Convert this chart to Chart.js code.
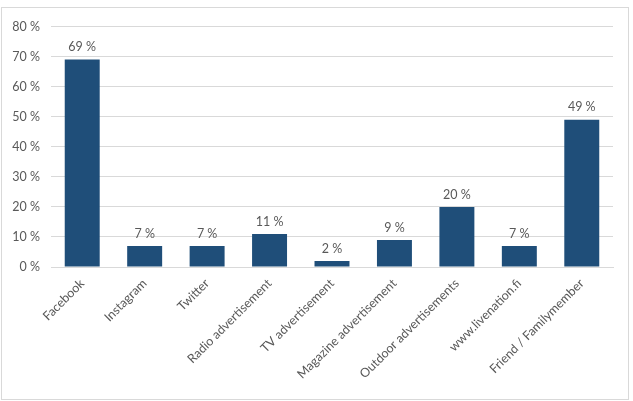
<!DOCTYPE html>
<html>
<head>
<meta charset="utf-8">
<script src="https://cdn.jsdelivr.net/npm/chart.js@4/dist/chart.umd.min.js"></script>
<style>
  body { margin: 0; background: #fff; }
  #box { position: absolute; left: 1px; top: 7px; width: 626px; height: 391px; border: 1px solid #d9d9d9; }
  canvas { display: block; }
</style>
</head>
<body>
<div id="box"><canvas id="chart" width="626" height="391"></canvas></div>
<script>
const categories = ["Facebook", "Instagram", "Twitter", "Radio advertisement", "TV advertisement",
  "Magazine advertisement", "Outdoor advertisements", "www.livenation.fi", "Friend / Familymember"];
const values = [69, 7, 7, 11, 2, 9, 20, 7, 49];
const yTicks = [0, 10, 20, 30, 40, 50, 60, 70, 80];

const textColor = "#595959";
const fontFamily = "Lato, 'Open Sans', sans-serif";

// labels above bars, like "69 %"
const valueLabels = {
  id: "valueLabels",
  afterDatasetsDraw(chart) {
    const ctx = chart.ctx;
    const meta = chart.getDatasetMeta(0);
    ctx.save();
    ctx.fillStyle = textColor;
    ctx.font = "12.5px " + fontFamily;
    ctx.textAlign = "center";
    ctx.textBaseline = "bottom";
    meta.data.forEach((bar, i) => {
      ctx.fillText(values[i] + " %", bar.x, bar.y - 6);
    });
    ctx.restore();
  }
};

const ctx = document.getElementById("chart").getContext("2d");
new Chart(ctx, {
  type: "bar",
  data: {
    labels: categories,
    datasets: [{
      data: values,
      backgroundColor: "#1f4e79",
      barPercentage: 0.56,
      categoryPercentage: 1
    }]
  },
  options: {
    responsive: false,
    animation: false,
    layout: { padding: { top: 14, right: 15, left: 0, bottom: 0 } },
    plugins: { legend: { display: false }, tooltip: { enabled: false } },
    scales: {
      x: {
        grid: { display: false, drawTicks: false },
        border: { color: "#d9d9d9" },
        ticks: {
          color: textColor,
          font: { size: 12.5, family: fontFamily },
          maxRotation: 45,
          minRotation: 45,
          padding: 9,
          autoSkip: false
        },
        afterFit(scale) { scale.height = 132; }
      },
      y: {
        min: 0,
        max: 80,
        afterBuildTicks(scale) { scale.ticks = yTicks.map(v => ({ value: v })); },
        grid: { color: "#d9d9d9", drawTicks: false },
        border: { display: false },
        ticks: {
          color: textColor,
          font: { size: 12.5, family: fontFamily },
          padding: 11,
          callback: v => v + " %"
        },
        afterFit(scale) { scale.width = 49; }
      }
    }
  },
  plugins: [valueLabels]
});
</script>
</body>
</html>
